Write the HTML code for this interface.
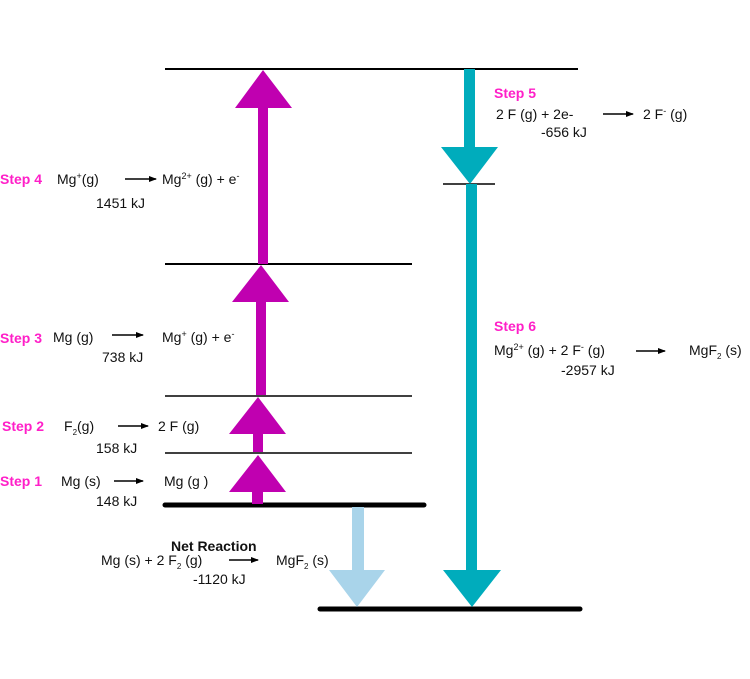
<!DOCTYPE html>
<html><head><meta charset="utf-8"><style>
body{margin:0;background:#fff}
svg{display:block}
text{font-family:"Liberation Sans",Arial,sans-serif;font-size:14px;fill:#111}
.s{fill:#ff1fc8;font-weight:bold}
</style></head><body>
<svg width="750" height="679" viewBox="0 0 750 679">
<defs><marker id="a" markerWidth="8" markerHeight="6" refX="7" refY="3" orient="auto" markerUnits="userSpaceOnUse"><polygon points="0,0 8,3 0,6" fill="#000"/></marker></defs>
<g stroke="#000">
<line x1="165" y1="69" x2="578" y2="69" stroke-width="2"/>
<line x1="165" y1="264" x2="412" y2="264" stroke-width="2"/>
<line x1="165" y1="396" x2="412" y2="396" stroke-width="1.5"/>
<line x1="165" y1="453" x2="412" y2="453" stroke-width="1.5"/>
<line x1="165" y1="505" x2="424" y2="505" stroke-width="5" stroke-linecap="round"/>
<line x1="320" y1="609" x2="580" y2="609" stroke-width="5" stroke-linecap="round"/>
<line x1="443" y1="184" x2="495" y2="184" stroke-width="1.5"/>
</g>
<g stroke="#000" stroke-width="1.5" marker-end="url(#a)">
<line x1="125" y1="179" x2="156" y2="179"/>
<line x1="112" y1="335" x2="143" y2="335"/>
<line x1="118" y1="426" x2="148" y2="426"/>
<line x1="114" y1="481" x2="143" y2="481"/>
<line x1="229" y1="560" x2="258" y2="560"/>
<line x1="603" y1="114" x2="633" y2="114"/>
<line x1="636" y1="351" x2="665" y2="351"/>
</g>
<g fill="#c000b0">
<polygon points="258,264 268,264 268,108 292,108 263,70 235,108 258,108"/>
<polygon points="256,395 266,395 266,302 289,302 261,265 232,302 256,302"/>
<polygon points="253,452 263,452 263,434 286,434 258,397 229,434 253,434"/>
<polygon points="252,504 263,504 263,492 286,492 258,455 229,492 252,492"/>
</g>
<g fill="#00acbc">
<polygon points="464,69 475,69 475,147 498,147 470,184 441,147 464,147"/>
<polygon points="466,184 477,184 477,570 501,570 472,607 443,570 466,570"/>
</g>
<polygon fill="#a9d4ea" points="352,507 364,507 364,570 385,570 357,607 329,570 352,570"/>

<text class="s" x="0" y="184">Step 4</text>
<text x="57" y="184">Mg<tspan font-size="9" dy="-5">+</tspan><tspan dy="5">(g)</tspan></text>
<text x="162" y="184">Mg<tspan font-size="9" dy="-5">2+</tspan><tspan dy="5"> (g) + e</tspan><tspan font-size="9" dy="-5">-</tspan></text>
<text x="96" y="208">1451 kJ</text>

<text class="s" x="0" y="343">Step 3</text>
<text x="53" y="342">Mg (g)</text>
<text x="162" y="342">Mg<tspan font-size="9" dy="-5">+</tspan><tspan dy="5"> (g) + e</tspan><tspan font-size="9" dy="-5">-</tspan></text>
<text x="102" y="362">738 kJ</text>

<text class="s" x="2" y="431">Step 2</text>
<text x="64" y="431">F<tspan font-size="8" dy="4">2</tspan><tspan dy="-4">(g)</tspan></text>
<text x="158" y="431">2 F (g)</text>
<text x="96" y="453">158 kJ</text>

<text class="s" x="0" y="486">Step 1</text>
<text x="61" y="486">Mg (s)</text>
<text x="164" y="486">Mg (g )</text>
<text x="96" y="506">148 kJ</text>

<text x="171" y="551" font-weight="bold">Net Reaction</text>
<text x="101" y="565">Mg (s)  + 2 F<tspan font-size="8" dy="4">2</tspan><tspan dy="-4"> (g)</tspan></text>
<text x="276" y="565">MgF<tspan font-size="8" dy="4">2</tspan><tspan dy="-4"> (s)</tspan></text>
<text x="193" y="584">-1120 kJ</text>

<text class="s" x="494" y="98">Step 5</text>
<text x="496" y="119">2 F (g) + 2e-</text>
<text x="643" y="119">2 F<tspan font-size="9" dy="-5">-</tspan><tspan dy="5"> (g)</tspan></text>
<text x="541" y="137">-656 kJ</text>

<text class="s" x="494" y="331">Step 6</text>
<text x="494" y="355">Mg<tspan font-size="9" dy="-5">2+</tspan><tspan dy="5"> (g) + 2 F</tspan><tspan font-size="9" dy="-5">-</tspan><tspan dy="5"> (g)</tspan></text>
<text x="689" y="355">MgF<tspan font-size="8" dy="4">2</tspan><tspan dy="-4"> (s)</tspan></text>
<text x="561" y="375">-2957 kJ</text>
</svg>
</body></html>
